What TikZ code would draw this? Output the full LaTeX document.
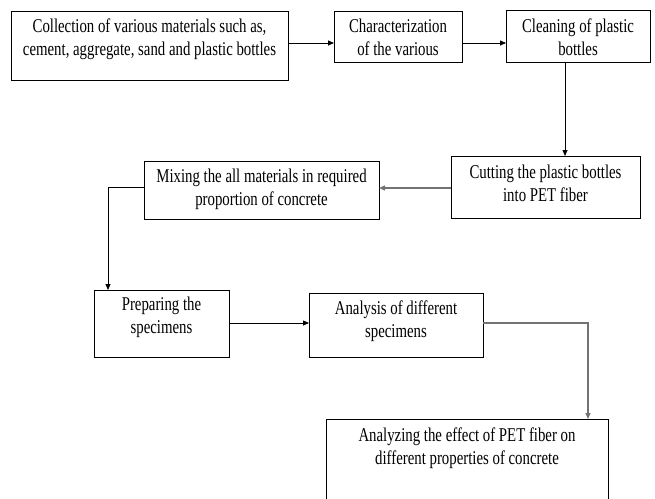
\documentclass[tikz,border=0pt]{standalone}
\usepackage{fontspec}
\setmainfont{Liberation Serif}[FakeStretch=0.76]
\usetikzlibrary{arrows.meta}
\begin{document}
\begin{tikzpicture}[x=1pt,y=-1pt,
  box/.style={draw=black,line width=0.8pt,rectangle,inner sep=0pt,outer sep=0pt},
  txt/.style={align=center,inner sep=0pt,anchor=base,font=\fontsize{19.5pt}{23pt}\selectfont},
  arr/.style={-{Triangle[length=6pt,width=5pt]},line width=0.8pt,draw=black},
  grayarr/.style={-{Triangle[length=6pt,width=5pt]},line width=1.3pt,draw=black!55}]
\useasboundingbox (0,0) rectangle (655,498);
\node[box,minimum width=277pt,minimum height=69pt] (b1) at (149.5,45.5) {};
\node[box,minimum width=128pt,minimum height=51pt] (b2) at (398,36.5) {};
\node[box,minimum width=144pt,minimum height=52pt] (b3) at (578,36) {};
\node[box,minimum width=189pt,minimum height=62pt] (b4) at (545.5,187) {};
\node[box,minimum width=235pt,minimum height=58pt] (b5) at (261.5,190) {};
\node[box,minimum width=135pt,minimum height=67pt] (b6) at (161.5,323.5) {};
\node[box,minimum width=174pt,minimum height=64pt] (b7) at (396,325) {};
\node[box,minimum width=282pt,minimum height=100pt] (b8) at (467,469) {};
\node[txt] (t1) at ([yshift=-44.5pt]b1.north) {Collection of various materials such as,\\cement, aggregate, sand and plastic bottles};
\node[txt] (t2) at ([yshift=-44.5pt]b2.north) {Characterization\\of the various};
\node[txt] (t3) at ([yshift=-45pt]b3.north) {Cleaning of plastic\\bottles};
\node[txt] (t4) at ([yshift=-45pt]b4.north) {Cutting the plastic bottles\\into PET fiber};
\node[txt] (t5) at ([yshift=-44pt]b5.north) {Mixing the all materials in required\\proportion of concrete};
\node[txt] (t6) at ([yshift=-43pt]b6.north) {Preparing the\\specimens};
\node[txt] (t7) at ([yshift=-44pt]b7.north) {Analysis of different\\specimens};
\node[txt] (t8) at ([yshift=-45.5pt]b8.north) {Analyzing the effect of PET fiber on\\different properties of concrete};
\draw[arr] (b1.east |- 0,43) -- (b2.west |- 0,43);
\draw[arr] (b2.east |- 0,43) -- (b3.west |- 0,43);
\draw[arr] (b3.south -| 565,0) -- (b4.north -| 565,0);
\draw[grayarr] (b4.west |- 0,188) -- (b5.east |- 0,188);
\draw[arr] (b5.west |- 0,187) -| (b6.north -| 108,0);
\draw[arr] (b6.east |- 0,323) -- (b7.west |- 0,323);
\draw[grayarr] (b7.east |- 0,323) -| (b8.north -| 588,0);
\end{tikzpicture}
\end{document}
